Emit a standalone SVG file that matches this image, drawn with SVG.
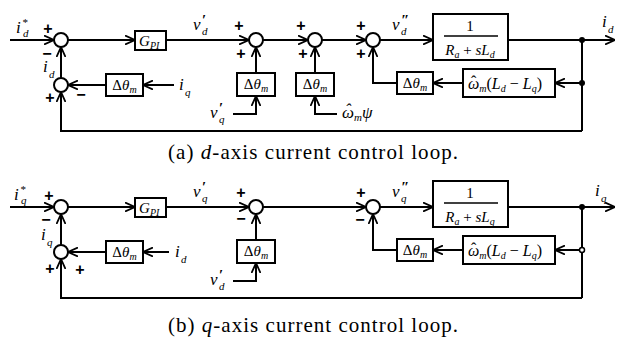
<svg xmlns="http://www.w3.org/2000/svg" width="619" height="340" viewBox="0 0 619 340">
<defs>
<marker id="ar" viewBox="0 0 10 10" refX="10" refY="5" markerWidth="10" markerHeight="10" markerUnits="userSpaceOnUse" orient="auto">
<path d="M0,0.5 L10,5 L0,9.5" fill="none" stroke="#000" stroke-width="1.8"/>
</marker>
<style>
.ln{stroke:#000;stroke-width:2;fill:none}
.ar{marker-end:url(#ar)}
.bx{fill:#fff;stroke:#000;stroke-width:2}
.sm{fill:#fff;stroke:#000;stroke-width:2}
.m{font-family:"Liberation Serif",serif;font-style:italic;font-size:17px;fill:#000}
.sb{font-family:"Liberation Serif",serif;font-style:italic;font-size:11px;fill:#000}
.pr{font-family:"Liberation Serif",serif;font-size:15px;font-weight:bold;fill:#000}
.sg{font-family:"Liberation Sans",sans-serif;font-weight:bold;font-size:16px;fill:#000;text-anchor:middle}
.cap{font-family:"Liberation Serif",serif;font-size:21px;fill:#000;text-anchor:middle}
.bt{font-family:"Liberation Serif",serif;font-size:15px;fill:#000;text-anchor:middle}
.bs{font-family:"Liberation Serif",serif;font-size:16px;fill:#000}
</style>
</defs>
<rect width="619" height="340" fill="#fff"/>

<!-- ===== (a) d-axis ===== -->
<g id="connectors-a">
<path class="ln ar" d="M10,40 H54"/>
<path class="ln ar" d="M68,40 H135"/>
<path class="ln ar" d="M166,40 H249"/>
<path class="ln ar" d="M263,40 H308"/>
<path class="ln ar" d="M322,40 H366"/>
<path class="ln ar" d="M380,40 H433"/>
<path class="ln ar" d="M508,40 H615"/>
<path class="ln" d="M582,40 V131"/>
<path class="ln ar" d="M582,83 H555"/>
<path class="ln ar" d="M463,83 H433"/>
<path class="ln ar" d="M397,83 H373 V47"/>
<path class="ln ar" d="M256,73 V47"/>
<path class="ln ar" d="M233,114 H256 V96"/>
<path class="ln ar" d="M315,73 V47"/>
<path class="ln ar" d="M337,114 H315 V96"/>
<path class="ln ar" d="M61,78 V47"/>
<path class="ln ar" d="M106,85 H68"/>
<path class="ln ar" d="M174,85 H143"/>
<path class="ln ar" d="M582,131 H61 V92"/>
<circle cx="582" cy="40" r="3" fill="#000"/>
<circle cx="582" cy="83" r="3" fill="#000"/>
</g>

<g id="a-sum1"><circle class="sm" cx="61" cy="40" r="7"/>
<text class="sg" x="48" y="34">+</text>
<text class="sg" x="47" y="59">−</text>
</g>
<g id="a-sum5"><circle class="sm" cx="61" cy="85" r="7"/>
<text class="sg" x="81" y="100">−</text>
<text class="sg" x="50" y="103">+</text>
</g>
<g id="a-sum2"><circle class="sm" cx="256" cy="40" r="7"/>
<text class="sg" x="239" y="31">+</text>
<text class="sg" x="241" y="59">+</text>
</g>
<g id="a-sum3"><circle class="sm" cx="315" cy="40" r="7"/>
<text class="sg" x="301" y="31">+</text>
<text class="sg" x="303" y="59">+</text>
</g>
<g id="a-sum4"><circle class="sm" cx="373" cy="40" r="7"/>
<text class="sg" x="361" y="31">+</text>
<text class="sg" x="361" y="59">+</text>
</g>

<g id="a-gpi"><rect class="bx" x="135" y="31" width="31" height="19"/>
<text class="m" x="139" y="46" style="font-size:15px">G</text><text class="sb" x="150" y="49" style="font-size:10px">PI</text>
</g>
<g id="a-plant"><rect class="bx" x="433" y="14" width="75" height="46"/>
<text class="bt" x="470" y="31">1</text>
<path d="M444,36 H498" stroke="#000" stroke-width="1.3"/>
<text class="bt" x="470" y="55"><tspan font-style="italic">R</tspan><tspan font-style="italic" font-size="10" dy="3">a</tspan><tspan dy="-3"> + </tspan><tspan font-style="italic">sL</tspan><tspan font-style="italic" font-size="10" dy="3">d</tspan></text>
</g>
<g id="a-omega"><rect class="bx" x="463" y="69" width="92" height="28"/>
<text class="bs" x="468" y="89"><tspan font-style="italic">ω</tspan><tspan font-style="italic" font-size="10" dy="3">m</tspan><tspan dy="-3">(</tspan><tspan font-style="italic">L</tspan><tspan font-style="italic" font-size="10" dy="3">d</tspan><tspan dy="-3"> − </tspan><tspan font-style="italic">L</tspan><tspan font-style="italic" font-size="10" dy="3">q</tspan><tspan dy="-3">)</tspan></text>
<text class="bs" x="471" y="87">ˆ</text>
</g>
<g id="a-dt4"><rect class="bx" x="397" y="72" width="36" height="22"/>
<text class="bt" x="415" y="88">Δ<tspan font-style="italic">θ</tspan><tspan font-style="italic" font-size="10" dy="3">m</tspan></text>
</g>
<g id="a-dt2"><rect class="bx" x="237" y="73" width="38" height="23"/>
<text class="bt" x="256" y="89">Δ<tspan font-style="italic">θ</tspan><tspan font-style="italic" font-size="10" dy="3">m</tspan></text>
</g>
<g id="a-dt3"><rect class="bx" x="296" y="73" width="38" height="23"/>
<text class="bt" x="315" y="89">Δ<tspan font-style="italic">θ</tspan><tspan font-style="italic" font-size="10" dy="3">m</tspan></text>
</g>
<g id="a-dt1"><rect class="bx" x="106" y="74" width="37" height="22"/>
<text class="bt" x="124.5" y="90">Δ<tspan font-style="italic">θ</tspan><tspan font-style="italic" font-size="10" dy="3">m</tspan></text>
</g>

<g id="a-labels">
<text class="m" x="16" y="33">i</text><text class="sb" x="22" y="26">*</text><text class="sb" x="23" y="37">d</text>
<text class="m" x="43" y="72">i</text><text class="sb" x="49" y="78">d</text>
<text class="m" x="193" y="30">v</text><text class="pr" x="202" y="25">′</text><text class="sb" x="202" y="35">d</text>
<text class="m" x="392" y="30">v</text><text class="pr" x="401" y="25">″</text><text class="sb" x="401" y="35">d</text>
<text class="m" x="602" y="27">i</text><text class="sb" x="608" y="33">d</text>
<text class="m" x="179" y="90">i</text><text class="sb" x="185" y="96">q</text>
<text class="m" x="210" y="118">v</text><text class="pr" x="219" y="113">′</text><text class="sb" x="219" y="123">q</text>
<text class="m" x="342" y="118">ω<tspan class="sb" dy="3">m</tspan><tspan dy="-3">ψ</tspan></text>
<text class="m" x="345" y="115">ˆ</text>
</g>

<text class="cap" x="313" y="159" textLength="290" lengthAdjust="spacing">(a) <tspan font-style="italic">d</tspan>-axis current control loop.</text>

<!-- ===== (b) q-axis ===== -->
<g id="connectors-b">
<path class="ln ar" d="M10,207 H54"/>
<path class="ln ar" d="M68,207 H135"/>
<path class="ln ar" d="M166,207 H249"/>
<path class="ln ar" d="M263,207 H366"/>
<path class="ln ar" d="M380,207 H433"/>
<path class="ln ar" d="M508,207 H615"/>
<path class="ln" d="M582,207 V298"/>
<path class="ln ar" d="M582,250 H555"/>
<path class="ln ar" d="M463,250 H433"/>
<path class="ln ar" d="M397,250 H373 V214"/>
<path class="ln ar" d="M256,240 V214"/>
<path class="ln ar" d="M233,281 H256 V263"/>
<path class="ln ar" d="M61,245 V214"/>
<path class="ln ar" d="M106,252 H68"/>
<path class="ln ar" d="M169,252 H143"/>
<path class="ln ar" d="M582,298 H61 V259"/>
<circle cx="582" cy="207" r="3" fill="#000"/>
<circle cx="582" cy="250" r="2.5" fill="#fff" stroke="#000" stroke-width="1.5"/>
</g>

<g id="b-sum1"><circle class="sm" cx="61" cy="207" r="7"/>
<text class="sg" x="49" y="201">+</text>
<text class="sg" x="46" y="225">−</text>
</g>
<g id="b-sum5"><circle class="sm" cx="61" cy="252" r="7"/>
<text class="sg" x="50" y="274">+</text>
<text class="sg" x="80" y="275">+</text>
</g>
<g id="b-sum2"><circle class="sm" cx="256" cy="207" r="7"/>
<text class="sg" x="241" y="198">+</text>
<text class="sg" x="241" y="224">−</text>
</g>
<g id="b-sum4"><circle class="sm" cx="373" cy="207" r="7"/>
<text class="sg" x="361" y="198">+</text>
<text class="sg" x="360" y="225">−</text>
</g>

<g id="b-gpi"><rect class="bx" x="135" y="198" width="31" height="19"/>
<text class="m" x="139" y="213" style="font-size:15px">G</text><text class="sb" x="150" y="216" style="font-size:10px">PI</text>
</g>
<g id="b-plant"><rect class="bx" x="433" y="181" width="75" height="46"/>
<text class="bt" x="470" y="198">1</text>
<path d="M444,203 H498" stroke="#000" stroke-width="1.3"/>
<text class="bt" x="470" y="222"><tspan font-style="italic">R</tspan><tspan font-style="italic" font-size="10" dy="3">a</tspan><tspan dy="-3"> + </tspan><tspan font-style="italic">sL</tspan><tspan font-style="italic" font-size="10" dy="3">q</tspan></text>
</g>
<g id="b-omega"><rect class="bx" x="463" y="236" width="92" height="28"/>
<text class="bs" x="468" y="256"><tspan font-style="italic">ω</tspan><tspan font-style="italic" font-size="10" dy="3">m</tspan><tspan dy="-3">(</tspan><tspan font-style="italic">L</tspan><tspan font-style="italic" font-size="10" dy="3">d</tspan><tspan dy="-3"> − </tspan><tspan font-style="italic">L</tspan><tspan font-style="italic" font-size="10" dy="3">q</tspan><tspan dy="-3">)</tspan></text>
<text class="bs" x="471" y="254">ˆ</text>
</g>
<g id="b-dt4"><rect class="bx" x="397" y="239" width="36" height="22"/>
<text class="bt" x="415" y="255">Δ<tspan font-style="italic">θ</tspan><tspan font-style="italic" font-size="10" dy="3">m</tspan></text>
</g>
<g id="b-dt2"><rect class="bx" x="237" y="240" width="38" height="23"/>
<text class="bt" x="256" y="256">Δ<tspan font-style="italic">θ</tspan><tspan font-style="italic" font-size="10" dy="3">m</tspan></text>
</g>
<g id="b-dt1"><rect class="bx" x="106" y="241" width="37" height="22"/>
<text class="bt" x="124.5" y="257">Δ<tspan font-style="italic">θ</tspan><tspan font-style="italic" font-size="10" dy="3">m</tspan></text>
</g>

<g id="b-labels">
<text class="m" x="14" y="200">i</text><text class="sb" x="20" y="193">*</text><text class="sb" x="21" y="204">q</text>
<text class="m" x="41" y="240">i</text><text class="sb" x="47" y="246">q</text>
<text class="m" x="193" y="197">v</text><text class="pr" x="202" y="192">′</text><text class="sb" x="202" y="202">q</text>
<text class="m" x="392" y="197">v</text><text class="pr" x="401" y="192">″</text><text class="sb" x="401" y="202">q</text>
<text class="m" x="595" y="196">i</text><text class="sb" x="601" y="202">q</text>
<text class="m" x="175" y="257">i</text><text class="sb" x="181" y="263">d</text>
<text class="m" x="210" y="285">v</text><text class="pr" x="219" y="280">′</text><text class="sb" x="219" y="290">d</text>
</g>

<text class="cap" x="313" y="332" textLength="290" lengthAdjust="spacing">(b) <tspan font-style="italic">q</tspan>-axis current control loop.</text>
</svg>
